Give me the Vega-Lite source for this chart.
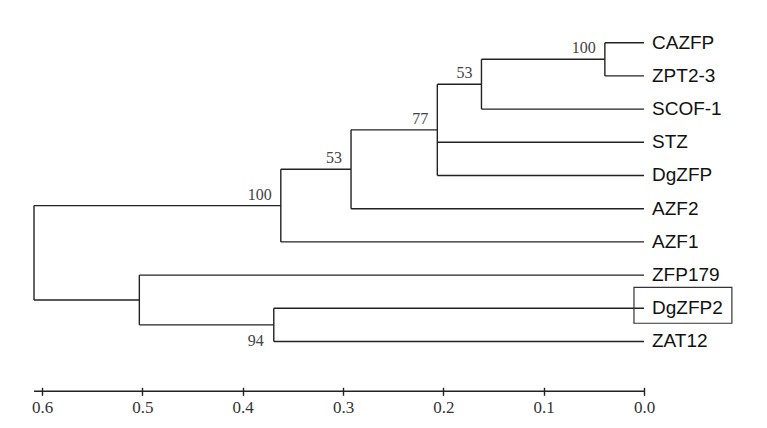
{
  "$schema": "https://vega.github.io/schema/vega-lite/v6.json",
  "description": "Neighbour-joining tree of zinc finger proteins with bootstrap values",
  "autosize": {"type": "none"},
  "width": 610,
  "height": 391.3,
  "padding": {"left": 34, "top": 0, "right": 123, "bottom": 36.7},
  "background": "white",
  "config": {
    "view": {"stroke": null},
    "axisX": {
      "labelFont": "Liberation Serif",
      "labelFontSize": 17,
      "labelColor": "#333",
      "labelPadding": 4,
      "labelFlush": false,
      "tickSize": 8,
      "tickWidth": 1.4,
      "tickColor": "#222",
      "domain": false,
      "grid": false
    }
  },
  "datasets": {
    "links": [
      {"x": 0.039, "x2": 0, "y": 0, "y2": 0},
      {"x": 0.039, "x2": 0, "y": 1, "y2": 1},
      {"x": 0.162, "x2": 0, "y": 2, "y2": 2},
      {"x": 0.206, "x2": 0, "y": 3, "y2": 3},
      {"x": 0.206, "x2": 0, "y": 4, "y2": 4},
      {"x": 0.292, "x2": 0, "y": 5, "y2": 5},
      {"x": 0.362, "x2": 0, "y": 6, "y2": 6},
      {"x": 0.503, "x2": 0, "y": 7, "y2": 7},
      {"x": 0.369, "x2": 0, "y": 8, "y2": 8},
      {"x": 0.369, "x2": 0, "y": 9, "y2": 9},
      {"x": 0.162, "x2": 0.039, "y": 0.5, "y2": 0.5},
      {"x": 0.206, "x2": 0.162, "y": 1.25, "y2": 1.25},
      {"x": 0.292, "x2": 0.206, "y": 2.625, "y2": 2.625},
      {"x": 0.362, "x2": 0.292, "y": 3.8125, "y2": 3.8125},
      {"x": 0.608, "x2": 0.362, "y": 4.906, "y2": 4.906},
      {"x": 0.503, "x2": 0.369, "y": 8.5, "y2": 8.5},
      {"x": 0.608, "x2": 0.503, "y": 7.75, "y2": 7.75},
      {"x": 0.039, "x2": 0.039, "y": 0, "y2": 1},
      {"x": 0.162, "x2": 0.162, "y": 0.5, "y2": 2},
      {"x": 0.206, "x2": 0.206, "y": 1.25, "y2": 4},
      {"x": 0.292, "x2": 0.292, "y": 2.625, "y2": 5},
      {"x": 0.362, "x2": 0.362, "y": 3.8125, "y2": 6},
      {"x": 0.369, "x2": 0.369, "y": 8, "y2": 9},
      {"x": 0.503, "x2": 0.503, "y": 7, "y2": 8.5},
      {"x": 0.608, "x2": 0.608, "y": 4.906, "y2": 7.75}
    ],
    "leaves": [
      {"name": "CAZFP", "y": 0},
      {"name": "ZPT2-3", "y": 1},
      {"name": "SCOF-1", "y": 2},
      {"name": "STZ", "y": 3},
      {"name": "DgZFP", "y": 4},
      {"name": "AZF2", "y": 5},
      {"name": "AZF1", "y": 6},
      {"name": "ZFP179", "y": 7},
      {"name": "DgZFP2", "y": 8},
      {"name": "ZAT12", "y": 9}
    ],
    "boot": [
      {"x": 0.039, "y": 0.5, "value": "100", "pos": "above"},
      {"x": 0.162, "y": 1.25, "value": "53", "pos": "above"},
      {"x": 0.206, "y": 2.625, "value": "77", "pos": "above"},
      {"x": 0.292, "y": 3.8125, "value": "53", "pos": "above"},
      {"x": 0.362, "y": 4.906, "value": "100", "pos": "above"},
      {"x": 0.369, "y": 9, "value": "94", "pos": "left"}
    ],
    "box": [
      {"x": 0.01, "x2": -0.0876, "y": 7.37, "y2": 8.45}
    ],
    "axisline": [
      {"x": 0.608, "x2": 0, "y": 10.5}
    ]
  },
  "layer": [
    {
      "data": {"name": "links"},
      "mark": {"type": "rule", "color": "#222", "strokeWidth": 1.4},
      "encoding": {
        "x": {
          "field": "x", "type": "quantitative", "title": null,
          "scale": {"domain": [0, 0.608], "reverse": true, "nice": false, "zero": false},
          "axis": {
            "values": [0, 0.1, 0.2, 0.3, 0.4, 0.5, 0.6],
            "format": ".1f",
            "offset": -4
          }
        },
        "x2": {"field": "x2"},
        "y": {
          "field": "y", "type": "quantitative", "axis": null,
          "scale": {"domain": [-1.286, 10.5], "reverse": true, "nice": false, "zero": false}
        },
        "y2": {"field": "y2"}
      }
    },
    {
      "data": {"name": "axisline"},
      "mark": {"type": "rule", "color": "#222", "strokeWidth": 1.4},
      "encoding": {
        "x": {"field": "x", "type": "quantitative", "title": null},
        "x2": {"field": "x2"},
        "y": {"field": "y", "type": "quantitative"}
      }
    },
    {
      "data": {"name": "box"},
      "mark": {"type": "rect", "fill": null, "fillOpacity": 0, "stroke": "#333", "strokeWidth": 1.2},
      "encoding": {
        "x": {"field": "x", "type": "quantitative", "title": null},
        "x2": {"field": "x2"},
        "y": {"field": "y", "type": "quantitative"},
        "y2": {"field": "y2"}
      }
    },
    {
      "data": {"name": "leaves"},
      "mark": {"type": "text", "align": "left", "baseline": "middle", "dx": 8, "font": "Liberation Sans", "fontSize": 19, "color": "#111"},
      "encoding": {
        "x": {"datum": 0, "type": "quantitative"},
        "y": {"field": "y", "type": "quantitative"},
        "text": {"field": "name"}
      }
    },
    {
      "data": {"name": "boot"},
      "transform": [{"filter": "datum.pos === 'above'"}],
      "mark": {"type": "text", "align": "right", "baseline": "middle", "dx": -9, "dy": -11, "font": "Liberation Serif", "fontSize": 16, "color": "#444"},
      "encoding": {
        "x": {"field": "x", "type": "quantitative", "title": null},
        "y": {"field": "y", "type": "quantitative"},
        "text": {"field": "value"}
      }
    },
    {
      "data": {"name": "boot"},
      "transform": [{"filter": "datum.pos === 'left'"}],
      "mark": {"type": "text", "align": "right", "baseline": "middle", "dx": -10, "font": "Liberation Serif", "fontSize": 16, "color": "#444"},
      "encoding": {
        "x": {"field": "x", "type": "quantitative", "title": null},
        "y": {"field": "y", "type": "quantitative"},
        "text": {"field": "value"}
      }
    }
  ]
}
